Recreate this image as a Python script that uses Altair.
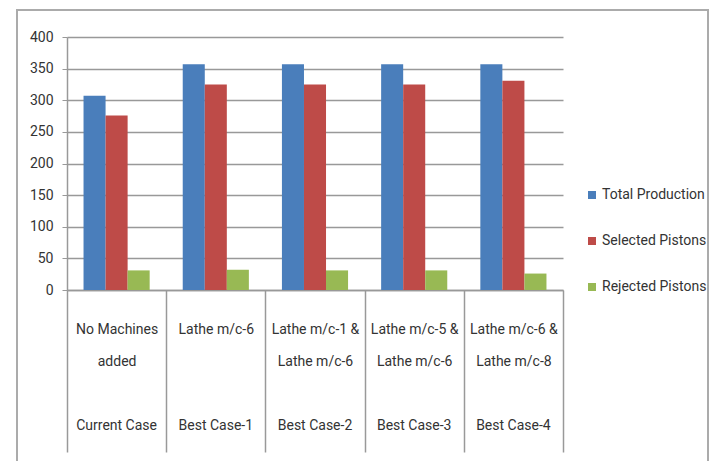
import json
import altair as alt
import pandas as pd

# ---- data ----
cases = ["Current Case", "Best Case-1", "Best Case-2", "Best Case-3", "Best Case-4"]
machines = [
    ["No Machines", "added"],
    ["Lathe m/c-6"],
    ["Lathe m/c-1 &", "Lathe m/c-6"],
    ["Lathe m/c-5 &", "Lathe m/c-6"],
    ["Lathe m/c-6 &", "Lathe m/c-8"],
]
series = ["Total Production", "Selected Pistons", "Rejected Pistons"]
total_production = [307, 357, 357, 357, 357]
selected_pistons = [276, 325, 325, 325, 331]
rejected_pistons = [31, 32, 31, 31, 26]
y_ticks = [0, 50, 100, 150, 200, 250, 300, 350, 400]
colors = ["#4A7EBB", "#BE4B48", "#98B954"]

FONT = "Roboto"
FS = 14
TEXT = "#333333"
LINE = "#999999"

rows = []
for i, c in enumerate(cases):
    for s, vals in zip(series, [total_production, selected_pistons, rejected_pistons]):
        rows.append({"case": c, "series": s, "value": vals[i]})
df = pd.DataFrame(rows)

label_map = {c: list(m) for c, m in zip(cases, machines)}
label_expr = json.dumps(label_map, ensure_ascii=False) + "[datum.label]"

W, H = 496, 253
x_scale = alt.Scale(domain=cases, paddingInner=0, paddingOuter=0)

bars = alt.Chart(df).mark_bar().encode(
    x=alt.X(
        "case:N",
        sort=cases,
        scale=x_scale,
        axis=alt.Axis(
            title=None,
            orient="bottom",
            labelExpr=label_expr,
            labelAngle=0,
            tickBand="extent",
            tickSize=162,
            tickColor=LINE,
            tickWidth=1.5,
            domainColor=LINE,
            domainWidth=1.5,
            labelPadding=-130,
            labelLineHeight=32,
            labelFont=FONT,
            labelFontSize=FS,
            labelColor=TEXT,
            labelLimit=200,
        ),
    ),
    xOffset=alt.XOffset(
        "series:N", sort=series, scale=alt.Scale(paddingInner=0, paddingOuter=0.75)
    ),
    y=alt.Y(
        "value:Q",
        scale=alt.Scale(domain=[0, 400]),
        axis=alt.Axis(
            title=None,
            values=y_ticks,
            grid=True,
            gridColor=LINE,
            gridWidth=1.5,
            domainColor=LINE,
            domainWidth=1.5,
            tickColor=LINE,
            tickSize=5,
            labelPadding=9,
            labelFont=FONT,
            labelFontSize=FS,
            labelColor=TEXT,
        ),
    ),
    color=alt.Color(
        "series:N",
        sort=series,
        scale=alt.Scale(domain=series, range=colors),
        legend=alt.Legend(
            title=None,
            orient="none",
            legendX=518,
            legendY=151,
            symbolType="square",
            symbolSize=64,
            symbolStrokeWidth=0,
            labelFont=FONT,
            labelFontSize=FS,
            labelColor=TEXT,
            labelOffset=3,
            rowPadding=32,
        ),
    ),
)

# second-level category labels ("Current Case", "Best Case-n")
case_axis = alt.Chart(pd.DataFrame({"case": cases})).mark_point(opacity=0).encode(
    x=alt.X(
        "case:N",
        sort=cases,
        scale=x_scale,
        axis=alt.Axis(
            title=None,
            orient="bottom",
            labelAngle=0,
            ticks=False,
            domain=False,
            labelPadding=128,
            labelFont=FONT,
            labelFontSize=FS,
            labelColor=TEXT,
            labelLimit=200,
        ),
    ),
)

frame = alt.Chart(pd.DataFrame({"f": [0]})).mark_rect(
    fill="white", fillOpacity=0, stroke="#ababab", strokeWidth=2
).encode(
    x=alt.value(-50), x2=alt.value(641), y=alt.value(-27), y2=alt.value(460)
)

chart = alt.layer(frame, bars, case_axis).resolve_axis(x="independent").properties(
    width=W,
    height=H,
    autosize=alt.AutoSizeParams(type="none"),
    padding={"left": 67, "top": 37, "right": 713 - 67 - W, "bottom": 461 - 37 - H},
).configure_view(strokeWidth=0)

chart.save("out.html", embed_options={"renderer": "svg", "actions": False})
